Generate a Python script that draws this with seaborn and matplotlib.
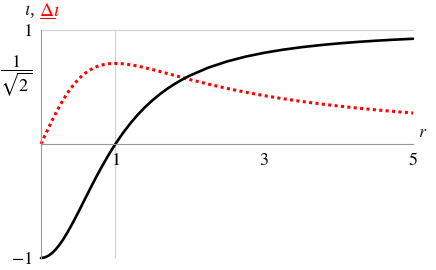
import numpy as np
import pandas as pd
import seaborn as sns
import matplotlib
matplotlib.use("Agg")
import matplotlib.pyplot as plt
from matplotlib.lines import Line2D

# ---- data ----
r_vals = [0.0, 0.05, 0.1, 0.15, 0.2, 0.25, 0.3, 0.35, 0.4, 0.45, 0.5,
          0.55, 0.6, 0.65, 0.7, 0.75, 0.8, 0.85, 0.9, 0.95, 1.0,
          1.1, 1.2, 1.3, 1.4, 1.5, 1.6, 1.7, 1.8, 1.9, 2.0,
          2.25, 2.5, 2.75, 3.0, 3.25, 3.5, 3.75, 4.0, 4.25, 4.5, 4.75, 5.0]
iota = [-1.0, -0.9950, -0.9802, -0.9560, -0.9231, -0.8824, -0.8349, -0.7817, -0.7241, -0.6632, -0.6,
        -0.5355, -0.4706, -0.4060, -0.3423, -0.28, -0.2195, -0.1611, -0.1050, -0.0512, 0.0,
        0.0950, 0.1803, 0.2565, 0.3243, 0.3846, 0.4382, 0.4859, 0.5283, 0.5662, 0.6,
        0.6701, 0.7241, 0.7664, 0.8, 0.8270, 0.8491, 0.8672, 0.8824, 0.8951, 0.9059, 0.9151, 0.9231]
delta_iota = [0.0, 0.0705, 0.1400, 0.2075, 0.2720, 0.3328, 0.3892, 0.4410, 0.4877, 0.5292, 0.5657,
              0.5972, 0.6239, 0.6462, 0.6644, 0.6788, 0.6899, 0.6979, 0.7032, 0.7062, 0.7071,
              0.7039, 0.6955, 0.6835, 0.6689, 0.6527, 0.6356, 0.6180, 0.6004, 0.5829, 0.5657,
              0.5249, 0.4877, 0.4542, 0.4243, 0.3975, 0.3736, 0.3521, 0.3328, 0.3153, 0.2995, 0.2851, 0.2720]

x_ticks = [1, 3, 5]
y_ticks = [-1, 1 / np.sqrt(2), 1]
y_ticklabels = ["$-1$", r"$\dfrac{1}{\sqrt{2}}$", "$1$"]

df = pd.DataFrame({"r": r_vals, "iota": iota, "delta": delta_iota})

sns.set_style("white")
plt.rcParams["font.family"] = ["Liberation Serif", "DejaVu Serif"]
plt.rcParams["mathtext.fontset"] = "stix"

fig = plt.figure(figsize=(4.36, 2.70), dpi=100)
ax = fig.add_axes([41 / 436, 12 / 270, 372 / 436, 228 / 270])

grid_c = "#d4d4d4"
ax.axvline(1, color=grid_c, lw=0.9, zorder=0)
ax.axhline(1, color=grid_c, lw=0.9, zorder=0, clip_on=False)

sns.lineplot(data=df, x="r", y="delta", ax=ax, color="red", lw=2.2,
             linestyle=(0, (1, 1.1)), clip_on=False)
sns.lineplot(data=df, x="r", y="iota", ax=ax, color="black", lw=1.9,
             clip_on=False)

ax.set_xlim(0, 5)
ax.set_ylim(-1, 1)
ax.set_xlabel("")
ax.set_ylabel("")

for s in ["top", "right"]:
    ax.spines[s].set_visible(False)
ax.spines["bottom"].set_position(("data", 0))
for s in ["left", "bottom"]:
    ax.spines[s].set_color("#999999")
    ax.spines[s].set_linewidth(0.8)

ax.set_xticks(x_ticks)
ax.set_xticklabels([f"${t}$" for t in x_ticks])
ax.set_yticks(y_ticks)
ax.set_yticklabels(y_ticklabels)
ax.tick_params(axis="both", direction="in", length=4, width=0.8,
               color="#999999", labelsize=13, labelcolor="black")
ax.tick_params(axis="x", pad=6)
ax.tick_params(axis="y", pad=6)

ax.text(5.07, 0.03, "$r$", fontsize=13, ha="left", va="bottom")

fig.text(24 / 436, 1 - 12 / 270, r"$\iota$,", fontsize=14, ha="left", va="center")
fig.text(39 / 436, 1 - 12 / 270, r"$\Delta\iota$", fontsize=14, color="red", ha="left", va="center")
fig.add_artist(Line2D([40 / 436, 55 / 436], [1 - 18 / 270, 1 - 18 / 270],
                      color="red", lw=0.8, transform=fig.transFigure))

fig.savefig("out.png", dpi=100)
